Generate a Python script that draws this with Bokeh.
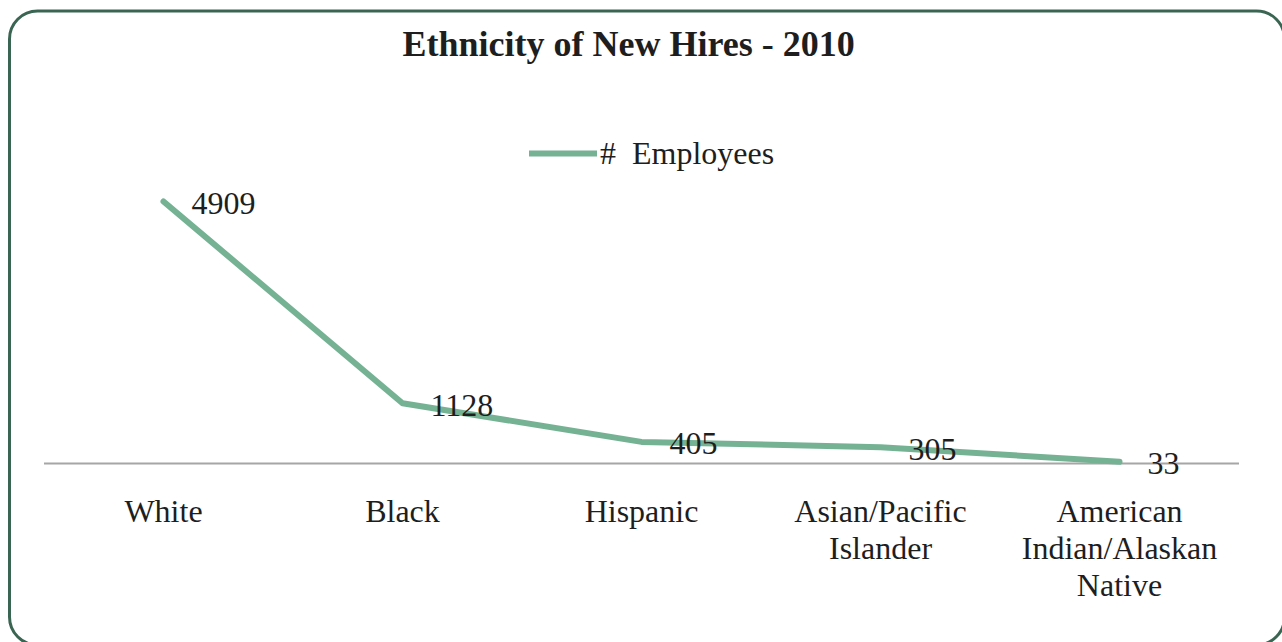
from bokeh.plotting import figure
from bokeh.models import FactorRange, Range1d, ColumnDataSource, Legend, LegendItem, BoxAnnotation, Label
from bokeh.core.properties import value
from bokeh.embed import file_html
from bokeh.resources import INLINE

categories = ["White", "Black", "Hispanic", "Asian/Pacific Islander", "American Indian/Alaskan Native"]
tick_labels = ["White", "Black", "Hispanic", "Asian/Pacific\nIslander", "American\nIndian/Alaskan\nNative"]
employees = [4909, 1128, 405, 305, 33]
data_labels = [str(v) for v in employees]
series_name = "#  Employees"
title_text = "Ethnicity of New Hires - 2010"

FONT = "Liberation Serif"
TEXT_COLOR = "#1e1e1e"
LINE_COLOR = "#75b294"
W, H = 1282, 642

src = ColumnDataSource(dict(cat=categories, val=employees, lbl=data_labels))

# category (tick) labels, one row per text line
tx, ty, tt, toff = [], [], [], []
for cat, tl in zip(categories, tick_labels):
    for k, line in enumerate(tl.split("\n")):
        tx.append(cat)
        ty.append(0)
        tt.append(line)
        toff.append(48 + 37 * k)
tick_src = ColumnDataSource(dict(x=tx, y=ty, t=tt, off=toff))

p = figure(width=W, height=H, title=None,
           x_range=FactorRange(factors=categories, range_padding=0.0728, range_padding_units="percent"),
           y_range=Range1d(-3354, 8675),
           x_axis_location=None, y_axis_location=None,
           output_backend="svg", toolbar_location=None,
           min_border=0, min_border_left=0, min_border_right=0,
           min_border_top=0, min_border_bottom=0)

p.xgrid.visible = False
p.ygrid.visible = False
p.outline_line_color = None
p.background_fill_color = "white"
p.border_fill_color = "white"

# baseline (category axis line)
p.segment(x0=[0], y0=[0], x1=[len(categories)], y1=[0],
          line_color="#a6a6a6", line_width=2)

r = p.line(x="cat", y="val", source=src, line_color=LINE_COLOR, line_width=6,
           line_cap="round", line_join="round")

# data labels
p.text(x="cat", y="val", text="lbl", source=src,
       x_offset=28, y_offset=2,
       text_align="left", text_baseline="middle",
       text_font=value(FONT), text_font_size="32px", text_color=TEXT_COLOR)

# category labels
p.text(x="x", y="y", text="t", source=tick_src,
       x_offset=0, y_offset="off",
       text_align="center", text_baseline="alphabetic",
       text_font=value(FONT), text_font_size="32px", text_color=TEXT_COLOR)

legend = Legend(items=[LegendItem(label=series_name, renderers=[r])],
                location=(529, 470), orientation="horizontal",
                glyph_width=68, glyph_height=38, label_height=38,
                label_standoff=3, padding=0, margin=0,
                border_line_color=None, background_fill_alpha=0,
                label_text_font=FONT, label_text_font_size="32px",
                label_text_color=TEXT_COLOR)
p.add_layout(legend)

title = Label(x=402, y=H - 43, x_units="screen", y_units="screen",
              text=title_text, text_align="left", text_baseline="alphabetic",
              text_font=FONT, text_font_size="36px", text_font_style="bold",
              text_color=TEXT_COLOR)
p.add_layout(title)

border = BoxAnnotation(left=9, right=1284, top=H - 10.5, bottom=-2.5,
                       left_units="screen", right_units="screen",
                       top_units="screen", bottom_units="screen",
                       fill_alpha=0, line_color="#3b6553", line_alpha=1.0,
                       line_width=3, border_radius=28, level="overlay")
p.add_layout(border)

open("out.html", "w").write(file_html(p, INLINE))
